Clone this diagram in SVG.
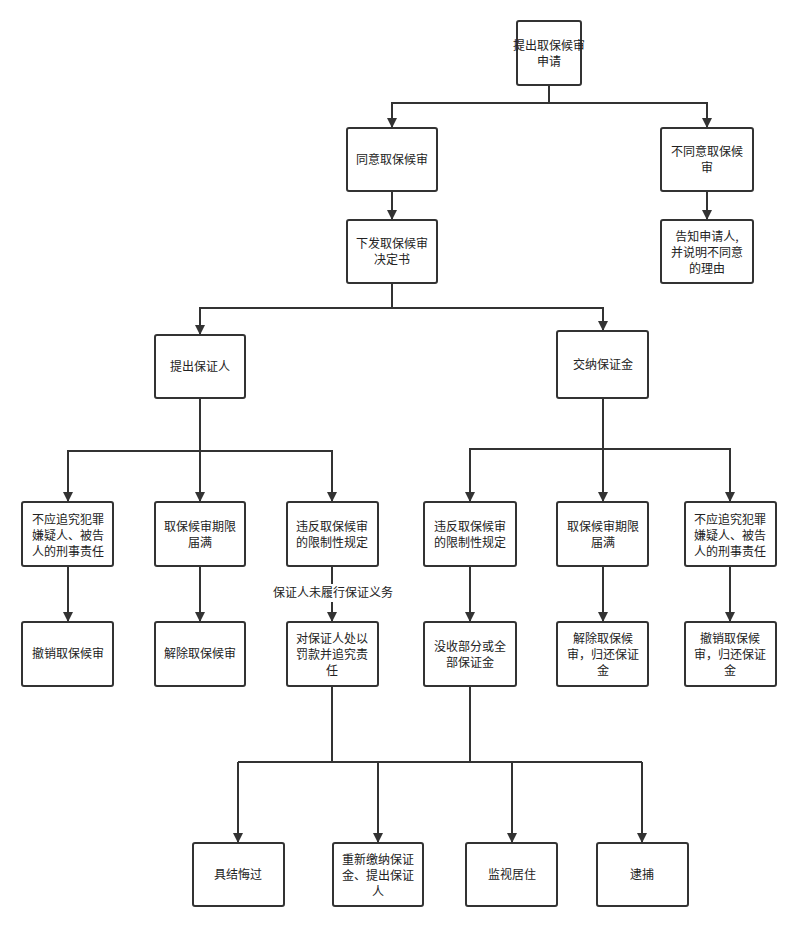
<svg xmlns="http://www.w3.org/2000/svg" width="800" height="930" viewBox="0 0 800 930">
<style>
.n rect{fill:#fff;stroke:#333;stroke-width:2}
.n text{font-family:"Noto Sans CJK SC",sans-serif;font-size:12px;fill:#222;text-anchor:middle}
#edges path{fill:none;stroke:#333;stroke-width:2}
.lb{font-family:"Noto Sans CJK SC",sans-serif;font-size:12px;fill:#222;text-anchor:middle}
</style>
<defs><marker id="a" viewBox="0 0 10 10" refX="9" refY="5" markerWidth="5" markerHeight="5" orient="auto"><path d="M0,0L10,5L0,10z" fill="#333"/></marker></defs>
<rect width="800" height="930" fill="#fff"/>
<g id="edges">
<path d="M549,85V103H392V127" marker-end="url(#a)"/>
<path d="M549,103H707V127" marker-end="url(#a)"/>
<path d="M392,191V219" marker-end="url(#a)"/>
<path d="M707,191V219" marker-end="url(#a)"/>
<path d="M392,283V308H200V334" marker-end="url(#a)"/>
<path d="M392,308H603V330" marker-end="url(#a)"/>
<path d="M200,398V451H68V501" marker-end="url(#a)"/>
<path d="M200,451V501" marker-end="url(#a)"/>
<path d="M200,451H332V501" marker-end="url(#a)"/>
<path d="M603,398V449H470V501" marker-end="url(#a)"/>
<path d="M603,449V501" marker-end="url(#a)"/>
<path d="M603,449H730V501" marker-end="url(#a)"/>
<path d="M68,566V621" marker-end="url(#a)"/>
<path d="M200,566V621" marker-end="url(#a)"/>
<path d="M332,566V621" marker-end="url(#a)"/>
<path d="M470,566V621" marker-end="url(#a)"/>
<path d="M603,566V621" marker-end="url(#a)"/>
<path d="M730,566V621" marker-end="url(#a)"/>
<path d="M332,686V762M470,686V762M238,762H642"/>
<path d="M238,762V842" marker-end="url(#a)"/>
<path d="M378,762V842" marker-end="url(#a)"/>
<path d="M512,762V842" marker-end="url(#a)"/>
<path d="M642,762V842" marker-end="url(#a)"/>
</g>
<rect x="268" y="584" width="130" height="18" fill="#fff"/>
<text class="lb" x="333" y="597">保证人未履行保证义务</text>
<g id="n1" class="n"><rect x="517" y="21" width="64" height="64" rx="2"/><text x="549" y="50">提出取保候审</text><text x="549" y="66">申请</text></g>
<g id="n2" class="n"><rect x="347" y="128" width="90" height="63" rx="2"/><text x="392" y="164">同意取保候审</text></g>
<g id="n3" class="n"><rect x="661" y="128" width="92" height="63" rx="2"/><text x="707" y="156">不同意取保候</text><text x="707" y="172">审</text></g>
<g id="n4" class="n"><rect x="347" y="220" width="90" height="63" rx="2"/><text x="392" y="248">下发取保候审</text><text x="392" y="264">决定书</text></g>
<g id="n5" class="n"><rect x="661" y="220" width="92" height="63" rx="2"/><text x="707" y="241">告知申请人,</text><text x="707" y="257">并说明不同意</text><text x="707" y="273">的理由</text></g>
<g id="n6" class="n"><rect x="155" y="335" width="90" height="63" rx="2"/><text x="200" y="371">提出保证人</text></g>
<g id="n7" class="n"><rect x="557" y="331" width="91" height="67" rx="2"/><text x="603" y="369">交纳保证金</text></g>
<g id="n8" class="n"><rect x="22" y="502" width="91" height="64" rx="2"/><text x="68" y="524">不应追究犯罪</text><text x="68" y="540">嫌疑人、被告</text><text x="68" y="556">人的刑事责任</text></g>
<g id="n9" class="n"><rect x="155" y="502" width="90" height="64" rx="2"/><text x="200" y="531">取保候审期限</text><text x="200" y="547">届满</text></g>
<g id="n10" class="n"><rect x="287" y="502" width="91" height="64" rx="2"/><text x="332" y="531">违反取保候审</text><text x="332" y="547">的限制性规定</text></g>
<g id="n11" class="n"><rect x="424" y="502" width="92" height="64" rx="2"/><text x="470" y="531">违反取保候审</text><text x="470" y="547">的限制性规定</text></g>
<g id="n12" class="n"><rect x="557" y="502" width="91" height="64" rx="2"/><text x="603" y="531">取保候审期限</text><text x="603" y="547">届满</text></g>
<g id="n13" class="n"><rect x="685" y="502" width="91" height="64" rx="2"/><text x="730" y="524">不应追究犯罪</text><text x="730" y="540">嫌疑人、被告</text><text x="730" y="556">人的刑事责任</text></g>
<g id="n14" class="n"><rect x="22" y="622" width="91" height="64" rx="2"/><text x="68" y="658">撤销取保候审</text></g>
<g id="n15" class="n"><rect x="155" y="622" width="90" height="64" rx="2"/><text x="200" y="658">解除取保候审</text></g>
<g id="n16" class="n"><rect x="287" y="622" width="91" height="64" rx="2"/><text x="332" y="643">对保证人处以</text><text x="332" y="659">罚款并追究责</text><text x="332" y="675">任</text></g>
<g id="n17" class="n"><rect x="424" y="622" width="92" height="64" rx="2"/><text x="470" y="651">没收部分或全</text><text x="470" y="667">部保证金</text></g>
<g id="n18" class="n"><rect x="557" y="622" width="91" height="64" rx="2"/><text x="603" y="643">解除取保候</text><text x="603" y="659">审，归还保证</text><text x="603" y="675">金</text></g>
<g id="n19" class="n"><rect x="685" y="622" width="91" height="64" rx="2"/><text x="730" y="643">撤销取保候</text><text x="730" y="659">审，归还保证</text><text x="730" y="675">金</text></g>
<g id="n20" class="n"><rect x="193" y="843" width="91" height="63" rx="2"/><text x="238" y="879">具结悔过</text></g>
<g id="n21" class="n"><rect x="333" y="843" width="90" height="63" rx="2"/><text x="378" y="864">重新缴纳保证</text><text x="378" y="880">金、提出保证</text><text x="378" y="896">人</text></g>
<g id="n22" class="n"><rect x="466" y="843" width="91" height="63" rx="2"/><text x="512" y="879">监视居住</text></g>
<g id="n23" class="n"><rect x="597" y="843" width="91" height="63" rx="2"/><text x="642" y="879">逮捕</text></g>
</svg>
